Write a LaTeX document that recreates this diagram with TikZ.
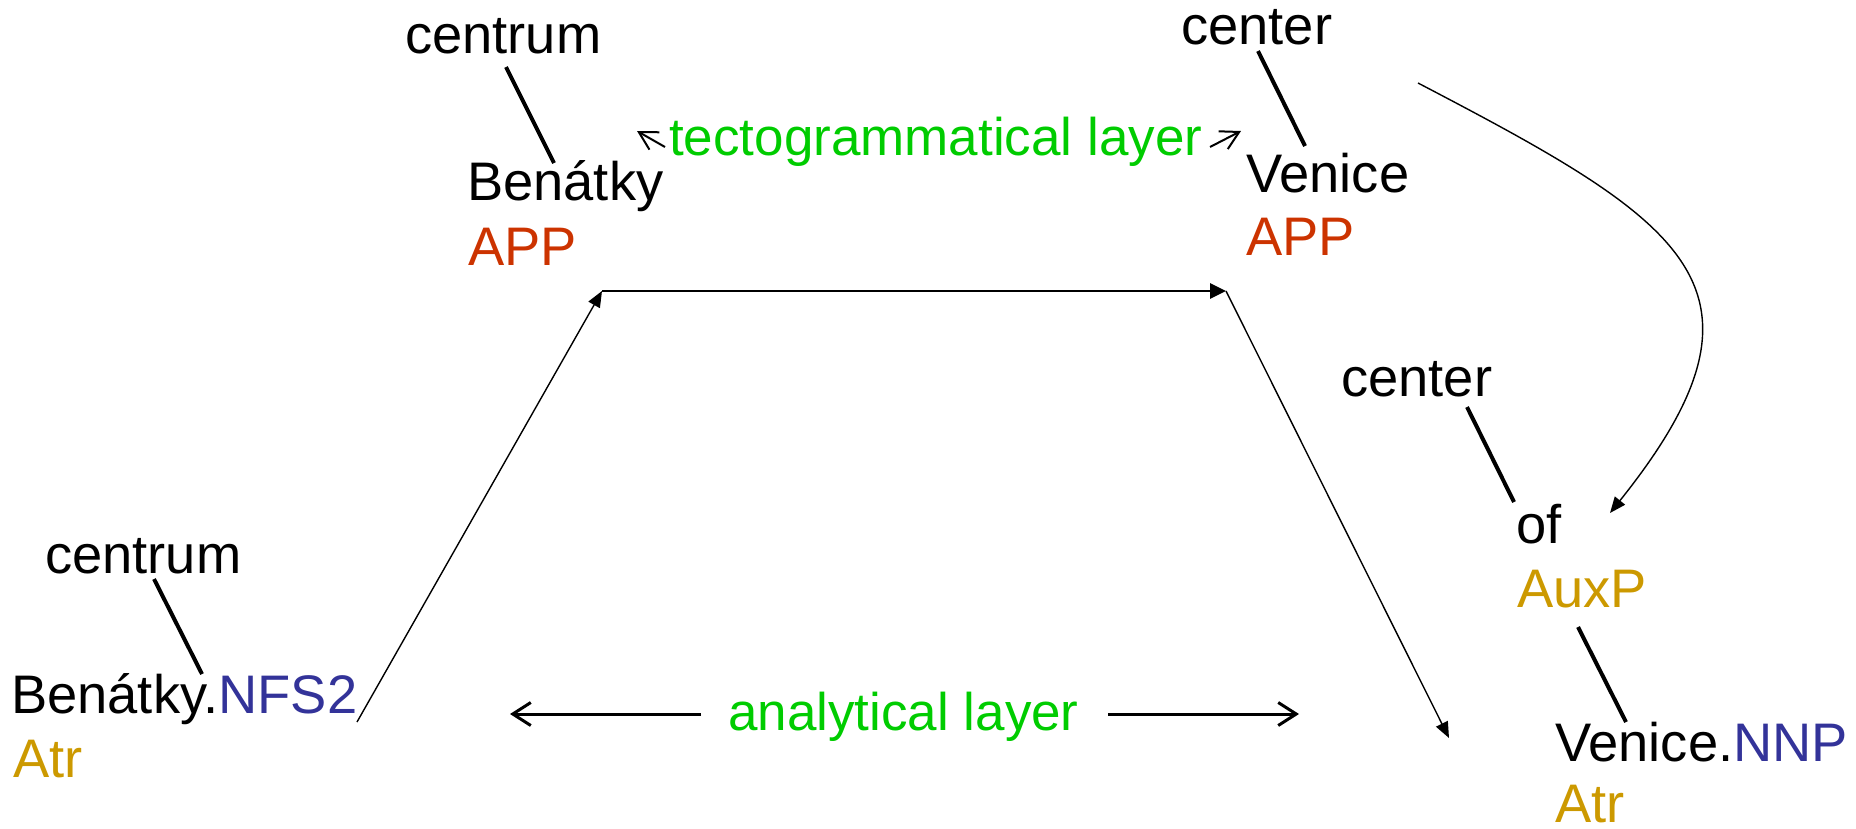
\documentclass[tikz,border=0pt]{standalone}
\usepackage{fontspec}
\setmainfont{Liberation Sans}
\usetikzlibrary{arrows.meta,calc}
\definecolor{tred}{RGB}{204,51,0}
\definecolor{nblue}{RGB}{51,51,153}
\definecolor{fgold}{RGB}{204,153,0}
\definecolor{lgreen}{RGB}{0,204,0}
\begin{document}
\begin{tikzpicture}[x=1pt,y=-1pt,
  word/.style={anchor=base west,inner sep=0pt,font=\fontsize{54.3pt}{64pt}\selectfont},
  layername/.style={anchor=base west,inner sep=0pt,text=lgreen,font=\fontsize{53pt}{64pt}\selectfont},
  edge/.style={line width=4pt},
  thinarr/.style={line width=1.4pt,-{Triangle[length=16pt,width=13pt]}},
  thickarr/.style={line width=2.8pt,-{Triangle[length=16pt,width=15pt]}},
  layerarr/.style={line width=3pt,-{Straight Barb[length=18pt,width=23pt]}},
  smallarr/.style={line width=2pt,-{Straight Barb[length=18pt,width=20pt]}}]
\useasboundingbox (0,0) rectangle (1856,828);

% tectogrammatical trees
\node[word] (cz1) at (405,53) {centrum};
\node[word] (bz1) at (467,200) {Benátky};
\node[word,text=tred] (app1) at (468,265) {APP};
\node[word] (cz2) at (1181,44) {center};
\node[word] (vz2) at (1246,192) {Venice};
\node[word,text=tred] (app2) at (1246,255) {APP};

% analytical trees
\node[word] (cz3) at (45,573) {centrum};
\node[word] (bn3) at (11,713) {Benátky.\textcolor{nblue}{NFS2}};
\node[word,text=fgold] (atr3) at (13,777) {Atr};
\node[word] (cz4) at (1341,396) {center};
\node[word] (of4) at (1516,543) {of};
\node[word,text=fgold] (ax4) at (1517,607) {AuxP};
\node[word] (vn4) at (1555,761) {Venice.\textcolor{nblue}{NNP}};
\node[word,text=fgold] (atr4) at (1555,822) {Atr};

% layer labels
\node[layername] (tecto) at (669,155) {tectogrammatical layer};
\node[layername] (anal) at (728,730) {analytical layer};

% tree edges
\draw[edge] ($(cz1.base west)+(101,14)$) -- ($(bz1.base west)+(87,-37)$);
\draw[edge] ($(cz2.base west)+(77,7)$) -- ($(vz2.base west)+(59,-46)$);
\draw[edge] ($(cz3.base west)+(109,6)$) -- ($(bn3.base west)+(191,-39)$);
\draw[edge] ($(cz4.base west)+(126,11)$) -- ($(of4.base west)+(-2,-41)$);
\draw[edge] ($(ax4.base west)+(61,20)$) -- ($(vn4.base west)+(71,-39)$);

% transfer between the layers
\coordinate (p0) at ($(bn3.base west)+(346,9)$);
\coordinate (p1) at ($(app1.base west)+(134,26)$);
\coordinate (p2) at ($(app2.base west)+(-20,36)$);
\coordinate (p3) at ($(vn4.base west)+(-106,-23)$);
\draw[thinarr] (p0) -- (p1);
\draw[thickarr] (p1) -- (p2);
\draw[thinarr] (p2) -- (p3);

% curved arrow from the English tectogrammatical tree to the preposition
\draw[thinarr] ($(vz2.base west)+(172,-109)$) .. controls (1684,222) and (1791,287) .. ($(of4.base west)+(94,-30)$);

% layer arrows
\draw[smallarr] ($(tecto.base west)+(-4,-8)$) -- ($(tecto.base west)+(-32,-24)$);
\draw[smallarr] ($(tecto.base west)+(541,-8)$) -- ($(tecto.base west)+(572,-24)$);
\draw[layerarr] ($(anal.base west)+(-27,-16)$) -- ($(anal.base west)+(-218,-16)$);
\draw[layerarr] ($(anal.base west)+(380,-16)$) -- ($(anal.base west)+(571,-16)$);
\end{tikzpicture}
\end{document}
